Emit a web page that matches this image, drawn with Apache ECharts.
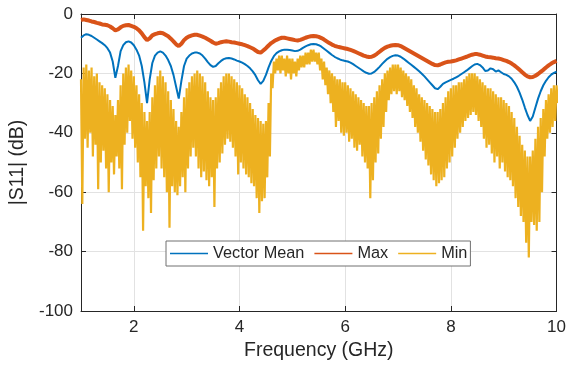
<!DOCTYPE html>
<html>
<head>
<meta charset="utf-8">
<script src="https://cdn.jsdelivr.net/npm/echarts@6/dist/echarts.min.js"></script>
<style>
html,body{margin:0;padding:0;background:#fff;}
#c{width:569px;height:367px;}
</style>
</head>
<body>
<div id="c"></div>
<script>
// Frequency grid (GHz): 1.00 .. 10.00, step 0.05 (181 samples)
const freqStart = 1.0;
const freqStep = 0.05;

// Vector Mean |S11| (dB)
const meanDb = [
 -8.0,-7.2,-6.8,-7.0,-7.4,-8.0,-8.6,-9.2,-9.8,-10.5,-11.5,-13.0,-16.0,-21.5,-17.5,-12.5,-10.5,-9.5,-9.2,-9.6,
 -10.5,-12.0,-14.0,-17.5,-23.0,-30.0,-22.0,-16.5,-14.0,-13.0,-12.6,-13.0,-14.0,-15.5,-17.5,-20.5,-24.5,-28.5,-22.5,-17.5,
 -15.0,-14.0,-13.3,-13.0,-13.0,-13.3,-14.0,-15.0,-16.2,-17.2,-17.8,-17.5,-16.6,-15.8,-15.2,-14.9,-14.8,-15.0,-15.3,-15.7,
 -16.0,-16.4,-16.9,-17.5,-18.3,-19.3,-20.6,-22.3,-23.5,-22.5,-20.5,-18.0,-15.8,-14.2,-13.2,-12.6,-12.2,-12.0,-12.0,-12.1,
 -12.3,-12.5,-12.4,-12.0,-11.4,-10.9,-10.5,-10.2,-10.1,-10.2,-10.5,-11.0,-11.7,-12.4,-13.1,-13.8,-14.4,-14.9,-15.3,-15.6,
 -15.8,-16.0,-16.4,-16.9,-17.5,-18.1,-18.7,-19.3,-19.8,-20.1,-20.0,-19.5,-18.7,-17.8,-16.8,-15.9,-15.1,-14.5,-14.1,-13.9,
 -14.0,-14.4,-15.0,-15.7,-16.4,-17.1,-17.8,-18.5,-19.3,-20.1,-21.0,-22.0,-23.0,-24.0,-25.0,-25.3,-24.5,-23.5,-23.0,-22.6,
 -22.2,-21.8,-21.3,-20.8,-20.2,-19.6,-19.0,-18.3,-17.6,-17.0,-16.8,-17.2,-18.0,-19.2,-19.0,-18.3,-18.6,-19.4,-19.0,-19.6,
 -20.2,-20.5,-21.0,-21.8,-23.0,-24.5,-26.5,-28.8,-31.5,-34.0,-36.0,-34.5,-31.5,-28.5,-26.0,-24.0,-22.5,-21.3,-20.4,-19.8,
 -19.4
];

// Max |S11| (dB)
const maxDb = [
 -2.0,-1.8,-2.0,-2.2,-2.5,-2.7,-3.0,-3.2,-3.5,-3.6,-3.8,-4.2,-4.8,-5.5,-5.2,-4.5,-4.0,-3.8,-3.7,-4.0,
 -4.3,-4.8,-5.5,-6.5,-7.8,-8.8,-8.2,-7.2,-6.8,-6.5,-6.3,-6.5,-7.0,-7.5,-8.3,-9.2,-10.2,-10.8,-10.0,-8.8,
 -8.0,-7.5,-7.2,-7.0,-7.0,-7.3,-7.6,-8.0,-8.5,-9.0,-9.6,-10.0,-9.8,-9.5,-9.3,-9.2,-9.3,-9.5,-9.6,-9.8,
 -10.0,-10.2,-10.5,-10.8,-11.2,-11.6,-12.2,-12.8,-13.0,-12.3,-11.5,-10.6,-9.8,-9.2,-8.7,-8.3,-8.0,-8.0,-8.2,-8.4,
 -8.6,-8.8,-8.9,-8.7,-8.4,-8.0,-7.7,-7.5,-7.4,-7.5,-7.7,-8.1,-8.6,-9.2,-9.8,-10.3,-10.7,-11.0,-11.2,-11.4,
 -11.6,-11.8,-12.1,-12.4,-12.8,-13.2,-13.6,-14.0,-14.3,-14.5,-14.4,-14.0,-13.4,-12.7,-12.0,-11.4,-11.0,-10.7,-10.5,-10.4,
 -10.5,-10.8,-11.3,-11.8,-12.3,-12.8,-13.3,-13.8,-14.3,-14.8,-15.3,-15.8,-16.3,-16.8,-17.2,-17.3,-17.0,-16.6,-16.3,-16.1,
 -16.0,-15.8,-15.6,-15.3,-15.0,-14.7,-14.4,-14.0,-13.7,-13.5,-13.5,-13.7,-14.0,-14.3,-14.5,-14.6,-14.7,-14.9,-15.0,-15.2,
 -15.5,-15.8,-16.2,-16.7,-17.3,-18.0,-18.8,-19.6,-20.4,-21.0,-21.3,-21.2,-20.8,-20.2,-19.5,-18.8,-18.0,-17.3,-16.7,-16.2,
 -15.8
];

// Min |S11| (dB): upper edge of the noisy trace
const minTopDb = [
 -22,-18,-17,-19,-18,-21,-20,-23,-24,-25,-27,-29,-31,-34,-29,-24,-20,-18,-17,-19,
 -21,-24,-27,-30,-33,-36,-33,-28,-24,-21,-19,-21,-23,-26,-29,-32,-36,-38,-33,-28,
 -25,-23,-21,-20,-19,-20,-21,-23,-26,-28,-29,-28,-25,-23,-21,-20,-20,-21,-22,-23,
 -24,-25,-27,-28,-30,-32,-34,-35,-36,-37,-36,-30,-20,-16,-15,-14,-14,-15,-14,-15,
 -15,-16,-15,-14,-14,-13,-13,-12,-12,-13,-13,-15,-16,-18,-19,-20,-21,-22,-22,-23,
 -23,-24,-25,-26,-27,-28,-29,-30,-31,-31,-30,-28,-26,-24,-22,-20,-19,-18,-17,-17,
 -17,-18,-19,-20,-21,-22,-24,-25,-27,-28,-29,-30,-31,-32,-33,-33,-32,-30,-28,-26,
 -25,-24,-24,-23,-23,-22,-21,-20,-20,-20,-21,-22,-23,-24,-25,-25,-26,-27,-28,-28,
 -29,-30,-31,-33,-35,-38,-41,-44,-46,-48,-48,-46,-42,-38,-35,-32,-29,-27,-25,-24,
 -24
];

// Min |S11| (dB): lower edge of the noisy trace (with deep spikes)
const minBottomDb = [
 -64,-42,-45,-40,-48,-44,-59,-50,-46,-52,-60,-50,-54,-48,-52,-59,-44,-40,-36,-42,
 -45,-50,-55,-73,-58,-62,-67,-56,-52,-48,-52,-55,-60,-72,-58,-60,-61,-58,-55,-60,
 -52,-48,-45,-48,-52,-55,-53,-56,-58,-55,-65,-52,-50,-47,-44,-42,-43,-45,-48,-54,
 -50,-52,-54,-55,-57,-58,-62,-67,-63,-62,-55,-48,-25,-20,-19,-20,-19,-21,-20,-22,
 -20,-21,-19,-18,-18,-17,-17,-16,-16,-17,-19,-22,-24,-27,-30,-33,-38,-36,-40,-41,
 -40,-43,-42,-45,-46,-44,-48,-50,-52,-62,-56,-50,-47,-42,-38,-33,-29,-27,-26,-27,
 -26,-28,-29,-31,-33,-35,-38,-40,-43,-46,-49,-51,-54,-56,-58,-57,-56,-55,-52,-50,
 -48,-45,-42,-40,-38,-36,-35,-34,-33,-34,-36,-38,-42,-45,-44,-47,-50,-48,-52,-50,
 -53,-55,-56,-58,-62,-65,-68,-70,-77,-82,-70,-71,-73,-70,-60,-48,-42,-40,-38,-36,
 -30
];

const seriesNames = ['Vector Mean', 'Max', 'Min'];
const xTicks = [2, 4, 6, 8, 10];
const yTicks = [-100, -80, -60, -40, -20, 0];

const freqAt = i => +(freqStart + freqStep * i).toFixed(3);
const meanData = meanDb.map((v, i) => [freqAt(i), v]);
const maxData = maxDb.map((v, i) => [freqAt(i), v]);
const minData = [];
minTopDb.forEach((v, i) => {
  minData.push([freqAt(i), v]);
  minData.push([+(freqAt(i) + freqStep / 2).toFixed(3), minBottomDb[i]]);
});

const AX = '#262626';
const FONT = 'Liberation Sans, Arial, sans-serif';
const chart = echarts.init(document.getElementById('c'), null, {renderer: 'canvas'});
chart.setOption({
  animation: false,
  backgroundColor: '#fff',
  color: ['#0072BD', '#D95319', '#EDB120'],
  grid: {left: 81, right: 12, top: 14, bottom: 56},
  legend: {
    data: seriesNames.map(n => ({name: n, icon: 'rect'})),
    left: 166, top: 241,
    orient: 'horizontal',
    itemWidth: 38, itemHeight: 1.5, itemGap: 10,
    padding: [4, 3, 4, 4],
    borderColor: '#707070', borderWidth: 1, borderRadius: 0,
    backgroundColor: '#fff',
    selectedMode: false,
    textStyle: {fontFamily: FONT, fontSize: 16.3, color: AX, lineHeight: 17}
  },
  xAxis: [{
    type: 'value', min: freqStart, max: xTicks[xTicks.length - 1], splitNumber: 5,
    name: 'Frequency (GHz)', nameLocation: 'middle', nameGap: 30,
    nameTextStyle: {fontFamily: FONT, fontSize: 19.5, color: AX},
    axisLine: {show: true, onZero: false, lineStyle: {color: AX, width: 1}},
    axisTick: {show: true, inside: true, length: 5, lineStyle: {color: AX}},
    axisLabel: {showMinLabel: false, fontFamily: FONT, fontSize: 17, color: AX, margin: 8},
    splitLine: {show: true, lineStyle: {color: '#e2e2e2', width: 1}}
  }, {
    type: 'value', position: 'top', min: freqStart, max: xTicks[xTicks.length - 1], splitNumber: 5,
    axisLine: {show: true, onZero: false, lineStyle: {color: AX, width: 1}},
    axisTick: {show: true, inside: true, length: 5, lineStyle: {color: AX}},
    axisLabel: {show: false}, splitLine: {show: false}
  }],
  yAxis: [{
    type: 'value', min: yTicks[0], max: yTicks[yTicks.length - 1], interval: 20,
    name: '|S11| (dB)', nameLocation: 'middle', nameGap: 47,
    nameTextStyle: {fontFamily: FONT, fontSize: 19.5, color: AX},
    axisLine: {show: true, onZero: false, lineStyle: {color: AX, width: 1}},
    axisTick: {show: true, inside: true, length: 5, lineStyle: {color: AX}},
    axisLabel: {fontFamily: FONT, fontSize: 17, color: AX, margin: 8},
    splitLine: {show: true, lineStyle: {color: '#e2e2e2', width: 1}}
  }, {
    type: 'value', position: 'right', min: yTicks[0], max: yTicks[yTicks.length - 1], interval: 20,
    axisLine: {show: true, onZero: false, lineStyle: {color: AX, width: 1}},
    axisTick: {show: true, inside: true, length: 5, lineStyle: {color: AX}},
    axisLabel: {show: false}, splitLine: {show: false}
  }],
  series: [
    {name: seriesNames[0], type: 'line', data: meanData, showSymbol: false, symbol: 'none',
     lineStyle: {width: 2, color: '#0072BD'}, z: 2},
    {name: seriesNames[1], type: 'line', data: maxData, showSymbol: false, symbol: 'none',
     lineStyle: {width: 4, color: '#D95319'}, z: 3},
    {name: seriesNames[2], type: 'line', data: minData, showSymbol: false, symbol: 'none',
     lineStyle: {width: 2.2, color: '#EDB120'}, z: 4}
  ]
});
</script>
</body>
</html>
